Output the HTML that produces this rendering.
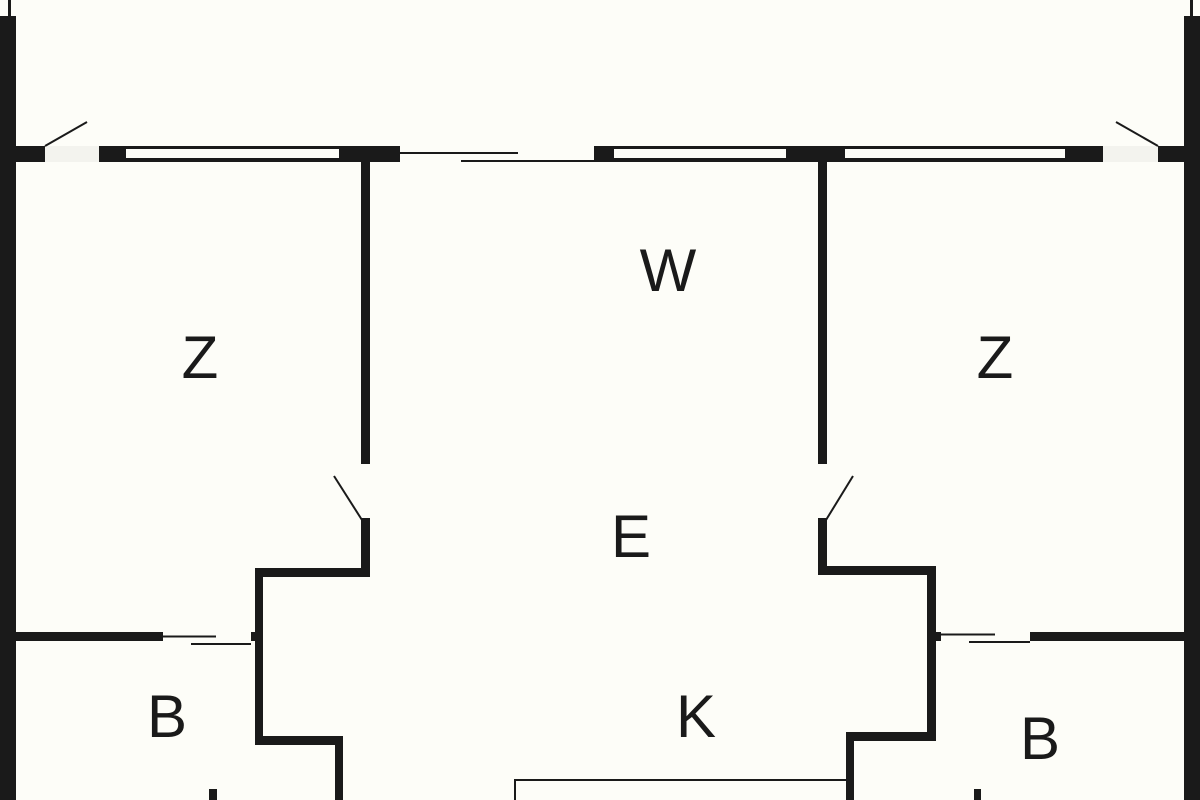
<!DOCTYPE html>
<html><head><meta charset="utf-8"><style>
html,body{margin:0;padding:0;background:#fdfdf8;}
svg{display:block}
text{font-family:"Liberation Sans","DejaVu Sans",sans-serif;font-size:60px;fill:#1a1a1a;text-anchor:middle}
</style></head><body>
<svg width="1200" height="800" viewBox="0 0 1200 800">
<rect width="1200" height="800" fill="#fdfdf8"/>
<g fill="#1a1a1a">
<!-- outer walls -->
<rect x="0" y="16" width="16" height="784"/>
<rect x="8" y="0" width="3" height="16"/>
<rect x="1184" y="16" width="16" height="784"/>
<rect x="1190" y="0" width="3" height="16"/>
<!-- top wall -->
<rect x="16" y="146" width="29" height="16"/>
<rect x="99" y="146" width="301" height="16"/>
<rect x="594" y="146" width="509" height="16"/>
<rect x="1158" y="146" width="26" height="16"/>
<!-- interior verticals -->
<rect x="361" y="162" width="9" height="302"/>
<rect x="818" y="162" width="9" height="302"/>
<!-- left step walls -->
<rect x="361" y="518" width="9" height="59"/>
<rect x="255" y="568" width="115" height="9"/>
<rect x="255" y="568" width="8" height="177"/>
<rect x="255" y="736" width="88" height="9"/>
<rect x="335" y="736" width="8" height="64"/>
<rect x="16" y="632" width="147" height="9"/>
<rect x="251" y="632" width="6" height="9"/>
<rect x="209" y="789" width="8" height="11"/>
<!-- right step walls -->
<rect x="818" y="518" width="9" height="57"/>
<rect x="818" y="566" width="118" height="9"/>
<rect x="927" y="566" width="9" height="174"/>
<rect x="846" y="732" width="90" height="9"/>
<rect x="846" y="732" width="8" height="68"/>
<rect x="936" y="632" width="5" height="9"/>
<rect x="1030" y="632" width="154" height="9"/>
<rect x="974" y="789" width="7" height="11"/>
</g>
<!-- gaps -->
<rect x="45" y="146" width="54" height="16" fill="#f3f3ee"/>
<rect x="1103" y="146" width="55" height="16" fill="#f3f3ee"/>
<!-- windows -->
<g fill="#fdfdf8">
<rect x="126" y="149" width="213" height="9"/>
<rect x="614" y="149" width="172" height="9"/>
<rect x="845" y="149" width="220" height="9"/>
</g>
<g stroke="#1a1a1a" stroke-width="2" fill="none">
<line x1="45" y1="146" x2="87" y2="122"/>
<line x1="1158" y1="146" x2="1116" y2="122"/>
<line x1="400" y1="153" x2="518" y2="153"/>
<line x1="461" y1="161" x2="595" y2="161"/>
<line x1="334" y1="476" x2="362" y2="520"/>
<line x1="853" y1="476" x2="826" y2="520"/>
<line x1="163" y1="636.5" x2="216" y2="636.5"/>
<line x1="191" y1="644" x2="251" y2="644"/>
<line x1="941" y1="634.5" x2="995" y2="634.5"/>
<line x1="969" y1="642" x2="1030" y2="642"/>
<polyline points="515,800 515,780 846,780"/>
</g>
<text x="668" y="291">W</text>
<text x="200" y="378">Z</text>
<text x="995" y="378">Z</text>
<text x="631" y="557">E</text>
<text x="696" y="737">K</text>
<text x="167" y="737">B</text>
<text x="1040" y="759">B</text>
</svg>
</body></html>
